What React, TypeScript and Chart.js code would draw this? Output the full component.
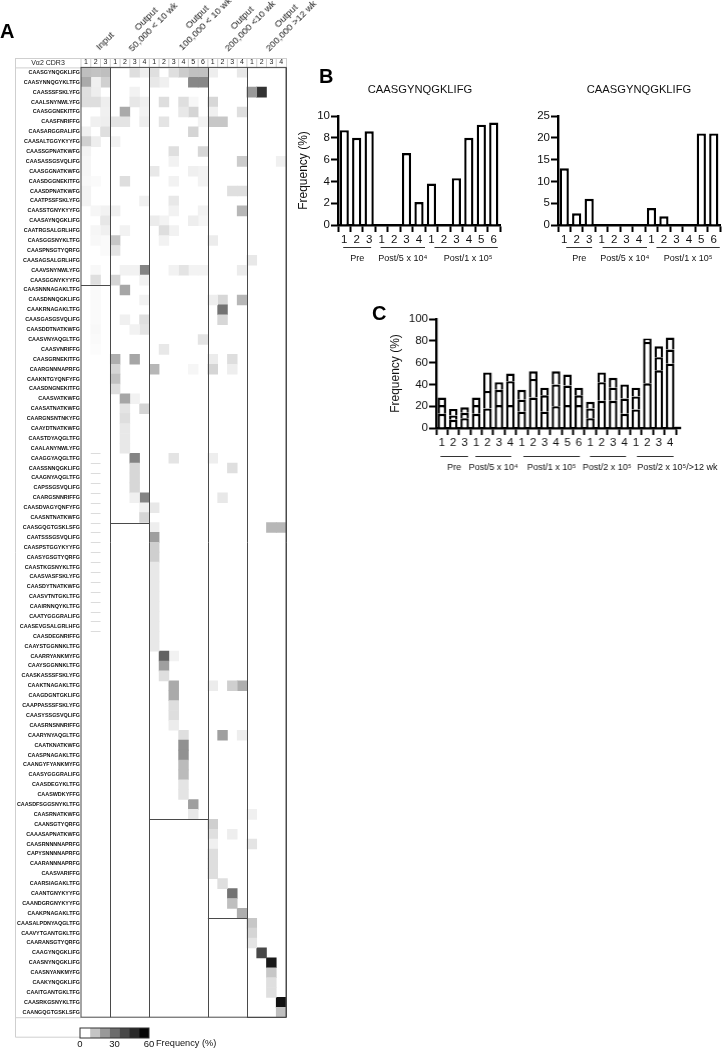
import React, { useEffect, useRef } from "react";
import { Chart, registerables } from "chart.js";

Chart.register(...registerables);
const FONT = "'Liberation Sans', Arial, sans-serif";
Chart.defaults.font.family = FONT;
Chart.defaults.color = "#000";

/* ---------- Panel A data ---------- */
const cdr3Labels = [
  "CAASGYNQGKLIFG", "CAASYNNQGYKLTFG", "CAASSSFSKLYFG", "CAALSNYNWLYFG", "CAASGGNEKITFG", "CAASFNRIFFG",
  "CAASARGGRALIFG", "CAASALTGGYKYYFG", "CAASSGPNATKWFG", "CAASASSGSVQLIFG", "CAASGGNATKWFG", "CAASDGGNEKITFG",
  "CAASDPNATKWFG", "CAATPSSFSKLYFG", "CAASSTGNYKYYFG", "CAASAYNQGKLIFG", "CAATRGSALGRLHFG", "CAASGGSNYKLTFG",
  "CAASPNSGTYQRFG", "CAASAGSALGRLHFG", "CAAVSNYNWLYFG", "CAASGGNYKYYFG", "CAASNNNAGAKLTFG", "CAASDNNQGKLIFG",
  "CAAKRNAGAKLTFG", "CAASGASGSVQLIFG", "CAASDDTNATKWFG", "CAASVNYAQGLTFG", "CAASVNRIFFG", "CAASGRNEKITFG",
  "CAARGNNNAPRFG", "CAAKNTGYQNFYFG", "CAASDNGNEKITFG", "CAASVATKWFG", "CAASATNATKWFG", "CAARGNSNTNKYFG",
  "CAAYDTNATKWFG", "CAASTDYAQGLTFG", "CAALANYNWLYFG", "CAAGGYAQGLTFG", "CAASSNNQGKLIFG", "CAAGNYAQGLTFG",
  "CAPSSGSVQLIFG", "CAARGSNNRIFFG", "CAASDVAGYQNFYFG", "CAASNTNATKWFG", "CAASGQGTGSKLSFG", "CAATSSSGSVQLIFG",
  "CAASPSTGGYKYYFG", "CAASYGSGTYQRFG", "CAASTKGSNYKLTFG", "CAASVASFSKLYFG", "CAASDYTNATKWFG", "CAASVTNTGKLTFG",
  "CAAIRNNQYKLTFG", "CAATYGGGRALIFG", "CAASEVGSALGRLHFG", "CAASDEGNRIFFG", "CAAYSTGGNNKLTFG", "CAARRYANKMYFG",
  "CAAYSGGNNKLTFG", "CAASKASSSFSKLYFG", "CAAKTNAGAKLTFG", "CAAGDGNTGKLIFG", "CAAPPASSSFSKLYFG", "CAASYSSGSVQLIFG",
  "CAASRNSNNRIFFG", "CAARYNYAQGLTFG", "CAATKNATKWFG", "CAASPNAGAKLTFG", "CAANGYFYANKMYFG", "CAASYGGGRALIFG",
  "CAASDEGYKLTFG", "CAASWDKYFFG", "CAASDFSGGSNYKLTFG", "CAASRNATKWFG", "CAANSGTYQRFG", "CAAASAPNATKWFG",
  "CAASRNNNNAPRFG", "CAPYSNNNNAPRFG", "CAARANNNAPRFG", "CAASVARIFFG", "CAARSIAGAKLTFG", "CAANTGNYKYYFG",
  "CAANDGRGNYKYYFG", "CAAKPNAGAKLTFG", "CAASALPDNYAQGLTFG", "CAAVYTGANTGKLTFG", "CAARANSGTYQRFG", "CAAGYNQGKLIFG",
  "CAASNYNQGKLIFG", "CAASNYANKMYFG", "CAAKYNQGKLIFG", "CAAITGANTGKLTFG", "CAASRKGSNYKLTFG", "CAANGQGTGSKLSFG",
];
const columnNumbers = ["1","2","3","1","2","3","4","1","2","3","4","5","6","1","2","3","4","1","2","3","4"];
// Index (0-based) of the last row that belongs to each sample group, and the columns the group ends at.
const groupColumnEnds = [3, 7, 13, 17, 21];
const groupRowEnds = [22, 46, 76, 86, 96];
// One entry per row: [column, frequency %] pairs for the non-empty cells.
const rowCells: number[][][] = [
  [[0,15],[1,14],[2,15],[5,7.8],[6,4],[7,7.5],[9,7.5],[10,12],[11,14.5],[12,14.5],[13,4],[16,5.5]],
  [[0,20],[1,3.5],[2,11],[7,5.5],[8,3.5],[11,28],[12,28]],
  [[0,7.5],[1,4],[5,3],[17,24],[18,48]],
  [[0,7.8],[1,7.8],[2,4],[5,5.6],[6,3.5],[8,7.8],[10,7.5],[11,2],[13,9.4]],
  [[2,3.5],[4,20],[6,2.8],[10,5.5],[11,10],[13,3.5],[16,7.5]],
  [[1,3.5],[2,4],[3,6.4],[4,6.4],[6,4],[8,6.4],[12,2.8],[13,13.2],[14,13.2]],
  [[0,3.5],[2,7.5],[11,10]],
  [[0,11],[1,4],[3,3]],
  [[0,2.8],[9,7.5],[12,9.4]],
  [[0,2.1],[9,3],[16,12],[20,3.5]],
  [[0,2.1],[7,5.5],[11,3.5],[12,2.8]],
  [[0,1.7],[1,1.2],[4,7.8],[9,3],[12,2.8]],
  [[0,2.8],[15,7.5],[16,7.5]],
  [[0,2.8],[6,3.5],[9,5.5]],
  [[1,2.1],[2,3],[3,3.5],[9,3],[12,3],[16,17]],
  [[2,5.6],[7,4.4],[8,2.8],[11,4],[12,2.1]],
  [[1,2.1],[2,3.5],[4,3],[8,7.8],[9,3]],
  [[1,1.7],[2,1.2],[3,13.2],[8,3],[13,4.4]],
  [[2,1.2],[3,6.4]],
  [[17,5.5]],
  [[1,1.7],[4,3],[5,3],[6,29],[9,3],[10,6.4],[11,2.8],[12,2.8],[16,4.4]],
  [[1,7.5],[3,10],[6,3]],
  [[1,1.2],[4,21]],
  [[1,1.2],[6,3],[13,4],[14,9.4],[16,17]],
  [[1,1.2],[14,33]],
  [[1,1.2],[4,3.5],[6,7.5],[14,9.4]],
  [[1,1.7],[5,3],[6,6.4]],
  [[1,1.2],[12,6.4]],
  [[1,0.7],[8,5.5]],
  [[3,19],[5,21],[13,4.4],[15,7.8]],
  [[3,10],[7,17],[11,2.1],[13,10],[15,4]],
  [[3,14.5]],
  [[3,7.8]],
  [[4,21],[5,3]],
  [[4,6.4],[6,10]],
  [[4,7.8]],
  [[4,5.5]],
  [[4,5.5]],
  [[4,5.5]],
  [[5,29],[9,6.4],[13,4]],
  [[5,9.4],[15,7.5]],
  [[5,9.4]],
  [[5,9.4]],
  [[5,3.5],[6,29],[14,5.5]],
  [[6,3.5],[7,5.5]],
  [[6,10]],
  [[7,4],[19,17],[20,17]],
  [[7,22.6]],
  [[7,11.2]],
  [[7,11.2]],
  [[7,5.5]],
  [[7,5.5]],
  [[7,5.5]],
  [[7,5.5]],
  [[7,5.5]],
  [[7,5.5]],
  [[7,5.5]],
  [[7,5.5]],
  [[7,5.5]],
  [[8,37],[9,3]],
  [[8,22.6]],
  [[8,7.5]],
  [[9,20],[13,4.4],[15,11.2],[16,19]],
  [[9,20]],
  [[9,7.8]],
  [[9,7.8]],
  [[9,4.4]],
  [[10,7.5],[14,22.6],[16,4]],
  [[10,26]],
  [[10,26]],
  [[10,16]],
  [[10,16]],
  [[10,6.4]],
  [[10,6.4]],
  [[11,22.6]],
  [[11,5.5],[17,3.5]],
  [[13,11.2]],
  [[13,7.5],[15,4]],
  [[13,3.5],[17,6.4]],
  [[13,7.8]],
  [[13,7.8]],
  [[13,7.8]],
  [[14,7.5]],
  [[15,33]],
  [[15,15]],
  [[16,19]],
  [[17,13.2]],
  [[17,10]],
  [[17,6.4]],
  [[18,43]],
  [[19,54]],
  [[19,13.2]],
  [[19,7.5]],
  [[19,7.5]],
  [[20,56]],
  [[20,15]],
];
// Rows of the input column whose lower edge carries a faint dash.
const faintDashRows = [38,39,40,41,42,43,44,45,46,47,48,49,50,51,52,53,54,55,56];
const legendBlocks = [8.57, 8.57, 8.57, 8.57, 8.57, 8.58, 8.57];
const legendGrays = ["#ffffff", "#c4c4c4", "#999999", "#6c6c6c", "#484848", "#282828", "#050505"];
const legendTicks = [0, 30, 60];

/* ---------- Panel B data ---------- */
const panelBTitle = "CAASGYNQGKLIFG";
const panelBLabels = ["1","2","3","1","2","3","4","1","2","3","4","5","6"];
const panelB1Values = [8.7, 8, 8.6, 0, 0, 6.6, 2.1, 3.8, 0, 4.3, 8, 9.2, 9.4];
const panelB2Values = [13, 2.7, 6, 0, 0, 0, 0, 3.9, 2, 0, 0, 21, 21];
const panelBGroups = ["Pre", "Post/5 x 10\u2074", "Post/1 x 10\u2075"];
const panelBGroupFirst = [0, 3, 7];
const panelBGroupLast = [2, 6, 12];

/* ---------- Panel C data ---------- */
const panelCLabels = ["1","2","3","1","2","3","4","1","2","3","4","5","6","1","2","3","4","1","2","3","4"];
const panelCLower = [13, 7.5, 9, 13, 18, 21, 21, 15, 28, 15, 20, 21, 21, 9, 25, 25, 13, 17, 41, 53, 59];
const panelCMiddle = [8, 4, 5, 8, 16, 14, 22, 11, 17, 15, 20, 18, 9, 9, 17, 12, 14, 12, 38, 12, 13];
const panelCUpper = [7, 6, 5, 7, 17, 7, 7, 9, 7, 7, 12, 10, 7, 6, 9, 9, 13, 8, 3, 10, 11];
const panelCGroups = ["Pre", "Post/5 x 10\u2074", "Post/1 x 10\u2075", "Post/2 x 10\u2075", "Post/2 x 10\u2075/>12 wk"];
const panelCGroupFirst = [0, 3, 7, 13, 17];
const panelCGroupLast = [2, 6, 12, 16, 20];

const headerLines = [["Input"], ["Output", "50,000 < 10 wk"], ["Output", "100,000 < 10 wk"], ["Output", "200,000 <10 wk"], ["Output", "200,000 >12 wk"]];

/* ---------- helpers ---------- */
const freqColor = (v: number) => {
  const g = Math.round(255 * (1 - v / 60));
  return `rgb(${g},${g},${g})`;
};

type Frame = { left: number; top: number; right: number; bottom: number; ml: number; mt: number; mr: number; mb: number };
const frameStyle = (f: Frame): React.CSSProperties => ({
  position: "absolute",
  left: f.left - f.ml,
  top: f.top - f.mt,
  width: f.right - f.left + f.ml + f.mr,
  height: f.bottom - f.top + f.mt + f.mb,
  display: "block",
});

function ChartCanvas({ frame, build }: { frame: Frame; build: () => any }) {
  const ref = useRef<HTMLCanvasElement>(null);
  useEffect(() => {
    const chart = new Chart(ref.current as HTMLCanvasElement, build());
    return () => chart.destroy();
  }, []);
  const s = frameStyle(frame);
  return <canvas ref={ref} width={s.width as number} height={s.height as number} style={s} />;
}

/* ---------- Panel A ---------- */
const frameA: Frame = { left: 81, top: 67.4, right: 286, bottom: 1017.2, ml: 67, mt: 9.4, mr: 2, mb: 22.8 };

const heatmapFrame = {
  id: "heatmapFrame",
  beforeDraw(chart: any) {
    const { ctx, chartArea: a, scales } = chart;
    const x = scales.x;
    ctx.save();
    ctx.strokeStyle = "#cfcfcf";
    ctx.lineWidth = 1;
    const l = a.left - 66;
    ctx.strokeRect(l + 0.5, 0.5, a.right - l, a.top);
    ctx.beginPath();
    ctx.moveTo(l + 0.5, a.top);
    ctx.lineTo(l + 0.5, a.bottom + 20);
    ctx.lineTo(a.left - 1, a.bottom + 20);
    ctx.moveTo(l + 0.5, a.bottom + 0.5);
    ctx.lineTo(a.left, a.bottom + 0.5);
    columnNumbers.forEach((_, i) => {
      const px = x.getPixelForValue(i);
      ctx.moveTo(px, 0);
      ctx.lineTo(px, a.top);
    });
    ctx.stroke();
    ctx.fillStyle = "#222";
    ctx.font = `7px ${FONT}`;
    ctx.textAlign = "center";
    ctx.textBaseline = "middle";
    ctx.fillText("V\u03b12 CDR3", l + 33, a.top / 2 + 0.5);
    ctx.restore();
  },
  afterDatasetsDraw(chart: any) {
    const { ctx, chartArea: a, scales } = chart;
    const x = scales.x;
    const y = scales.y;
    const rowH = (a.bottom - a.top) / cdr3Labels.length;
    ctx.save();
    ctx.strokeStyle = "#dcdcdc";
    ctx.lineWidth = 1;
    ctx.beginPath();
    faintDashRows.forEach((r) => {
      const py = Math.round(y.getPixelForValue(r) + rowH / 2) + 0.5;
      ctx.moveTo(x.getPixelForValue(1) , py);
      ctx.lineTo(x.getPixelForValue(2) , py);
    });
    ctx.stroke();
    ctx.strokeStyle = "#4a4a4a";
    ctx.lineWidth = 1;
    ctx.strokeRect(a.left, a.top, a.right - a.left, a.bottom - a.top);
    ctx.beginPath();
    groupColumnEnds.forEach((c, i) => {
      const px = Math.round(x.getPixelForValue(c)) + 0.5;
      const pyEnd = Math.round(y.getPixelForValue(groupRowEnds[i] - 1) + rowH / 2) + 0.5;
      ctx.moveTo(px, a.top);
      ctx.lineTo(px, a.bottom);
      const startC = i === 0 ? 0 : groupColumnEnds[i - 1];
      ctx.moveTo(x.getPixelForValue(startC), pyEnd);
      ctx.lineTo(px, pyEnd);
    });
    ctx.stroke();
    ctx.restore();
  },
};

const buildHeatmap = () => ({
  type: "bar",
  data: {
    labels: cdr3Labels,
    datasets: columnNumbers.map((_, c) => ({
      data: rowCells.map((cells) => (cells.some((p) => p[0] === c) ? [c, c + 1] : null)),
      backgroundColor: rowCells.map((cells) => {
        const hit = cells.find((p) => p[0] === c);
        return hit ? freqColor(hit[1]) : "#fff";
      }),
      borderWidth: 0,
      barPercentage: 1,
      categoryPercentage: 1,
      grouped: false,
    })),
  },
  options: {
    indexAxis: "y",
    responsive: false,
    animation: false,
    layout: { padding: { top: 0, left: 0, right: frameA.mr, bottom: frameA.mb } },
    plugins: { legend: { display: false }, tooltip: { enabled: false } },
    scales: {
      x: {
        type: "linear",
        position: "top",
        min: 0,
        max: 21,
        grid: { display: false, drawTicks: false },
        border: { display: false },
        afterBuildTicks: (s: any) => {
          s.ticks = columnNumbers.map((_, i) => ({ value: i + 0.5 }));
        },
        afterFit: (s: any) => {
          s.height = frameA.mt;
        },
        ticks: {
          autoSkip: false,
          maxRotation: 0,
          padding: 1,
          color: "#222",
          font: { size: 7 },
          callback: (_v: any, i: number) => columnNumbers[i],
        },
      },
      y: {
        type: "category",
        grid: { display: false, drawTicks: false },
        border: { display: false },
        afterFit: (s: any) => {
          s.width = frameA.ml;
        },
        ticks: {
          autoSkip: false,
          padding: 1,
          color: "#111",
          font: { size: 5.4, weight: "bold" },
        },
      },
    },
  },
  plugins: [heatmapFrame],
});

/* ---------- Legend ---------- */
const frameLegend: Frame = { left: 80, top: 1027.5, right: 149, bottom: 1037.5, ml: 10, mt: 2, mr: 10, mb: 12 };
const legendOutline = {
  id: "legendOutline",
  afterDatasetsDraw(chart: any) {
    const { ctx, chartArea: a } = chart;
    ctx.save();
    ctx.strokeStyle = "#333";
    ctx.lineWidth = 1;
    ctx.strokeRect(a.left, a.top, a.right - a.left, a.bottom - a.top);
    ctx.restore();
  },
};
const buildLegend = () => ({
  type: "bar",
  data: {
    labels: [""],
    datasets: legendBlocks.map((v, i) => ({
      data: [v],
      backgroundColor: legendGrays[i],
      borderWidth: 0,
      barPercentage: 1,
      categoryPercentage: 1,
    })),
  },
  options: {
    indexAxis: "y",
    responsive: false,
    animation: false,
    layout: { padding: { top: frameLegend.mt, left: 0, right: frameLegend.mr, bottom: 0 } },
    plugins: { legend: { display: false }, tooltip: { enabled: false } },
    scales: {
      x: {
        stacked: true,
        min: 0,
        max: 60,
        grid: { display: false, drawTicks: false },
        border: { display: false },
        afterBuildTicks: (s: any) => {
          s.ticks = legendTicks.map((value) => ({ value }));
        },
        afterFit: (s: any) => {
          s.height = frameLegend.mb;
        },
        ticks: { padding: 1, font: { size: 9.5 }, maxRotation: 0, autoSkip: false, color: "#111" },
      },
      y: {
        stacked: true,
        grid: { display: false, drawTicks: false },
        border: { display: false },
        ticks: { display: false },
        afterFit: (s: any) => {
          s.width = frameLegend.ml;
        },
      },
    },
  },
  plugins: [legendOutline],
});

/* ---------- Bar panels ---------- */
type GroupOpts = {
  names: string[];
  first: number[];
  last: number[];
  startShift: number[];
  endShift: number[];
  labelShift: number[];
  lineDrop: number;
  labelDrop: number;
  title?: string;
  titleY?: number;
  titleShift?: number;
  axisExtend?: number;
};
const groupPlugin = (g: GroupOpts) => ({
  id: "groupAxis",
  afterDraw(chart: any) {
    const { ctx, chartArea: a, scales } = chart;
    const x = scales.x;
    ctx.save();
    ctx.strokeStyle = "#333";
    ctx.fillStyle = "#111";
    ctx.lineWidth = 1;
    ctx.textAlign = "center";
    ctx.textBaseline = "middle";
    ctx.font = `9px ${FONT}`;
    g.names.forEach((name, i) => {
      const x0 = x.getPixelForValue(g.first[i]) + g.startShift[i];
      const x1 = x.getPixelForValue(g.last[i]) + g.endShift[i];
      const ly = Math.round(a.bottom + g.lineDrop) + 0.5;
      ctx.beginPath();
      ctx.moveTo(x0, ly);
      ctx.lineTo(x1, ly);
      ctx.stroke();
      ctx.fillText(name, (x0 + x1) / 2 + g.labelShift[i], a.bottom + g.labelDrop);
    });
    if (g.axisExtend) {
      ctx.strokeStyle = "#000";
      ctx.lineWidth = 2.4;
      ctx.beginPath();
      const py = Math.round(a.bottom);
      ctx.moveTo(a.right - 1, py);
      ctx.lineTo(a.right + g.axisExtend, py);
      ctx.stroke();
    }
    if (g.title) {
      ctx.fillStyle = "#111";
      ctx.font = `11.2px ${FONT}`;
      ctx.fillText(g.title, (a.left + a.right) / 2 + (g.titleShift || 0), g.titleY as number);
    }
    ctx.restore();
  },
});

const STROKE = 2.4;
const barScales = (frame: Frame, yMax: number, step: number, showTitle: boolean) => ({
  x: {
    stacked: true,
    grid: { display: true, drawOnChartArea: false, tickLength: 7, tickWidth: 2, tickColor: "#000" },
    border: { display: true, width: STROKE, color: "#000" },
    afterFit: (s: any) => {
      s.height = frame.mb;
    },
    ticks: { autoSkip: false, maxRotation: 0, padding: 1, color: "#111", font: { size: 11.5 } },
  },
  y: {
    stacked: true,
    min: 0,
    max: yMax,
    title: { display: showTitle, text: "Frequency (%)", color: "#111", font: { size: 12 }, padding: { top: 0, bottom: 0 } },
    grid: { display: true, drawOnChartArea: false, tickLength: 7, tickWidth: 2, tickColor: "#000" },
    border: { display: true, width: STROKE, color: "#000" },
    afterFit: (s: any) => {
      s.width = frame.ml;
    },
    ticks: { stepSize: step, padding: 1, color: "#111", font: { size: 11.5 } },
  },
});

const barDataset = (data: number[], pct: number) => ({
  data,
  backgroundColor: "#fff",
  borderColor: "#000",
  borderWidth: STROKE,
  barPercentage: pct,
  categoryPercentage: 1,
});

const barOptions = (frame: Frame, yMax: number, step: number, showTitle: boolean) => ({
  responsive: false,
  animation: false,
  layout: { padding: { top: frame.mt, left: 0, right: frame.mr, bottom: 0 } },
  plugins: { legend: { display: false }, tooltip: { enabled: false } },
  scales: barScales(frame, yMax, step, showTitle),
});

const frameB1: Frame = { left: 337.7, top: 116, right: 500.3, bottom: 225.3, ml: 42, mt: 34, mr: 6, mb: 42 };
const frameB2: Frame = { left: 557.7, top: 116, right: 720.2, bottom: 225.3, ml: 42, mt: 34, mr: 6, mb: 42 };
const frameC: Frame = { left: 436, top: 319.3, right: 675.8, bottom: 428.3, ml: 48, mt: 10, mr: 46, mb: 48 };

const buildB1 = () => ({
  type: "bar",
  data: { labels: panelBLabels, datasets: [barDataset(panelB1Values, 0.74)] },
  options: barOptions(frameB1, 10, 2, true),
  plugins: [
    groupPlugin({
      names: panelBGroups,
      first: panelBGroupFirst,
      last: panelBGroupLast,
      startShift: [-1, -1, 3],
      endShift: [2, 6, 4],
      labelShift: [0, 0, 2],
      lineDrop: 22.4,
      labelDrop: 34,
      title: panelBTitle,
      titleY: 8,
      titleShift: 1,
    }),
  ],
});
const buildB2 = () => ({
  type: "bar",
  data: { labels: panelBLabels, datasets: [barDataset(panelB2Values, 0.74)] },
  options: barOptions(frameB2, 25, 5, false),
  plugins: [
    groupPlugin({
      names: panelBGroups,
      first: panelBGroupFirst,
      last: panelBGroupLast,
      startShift: [2, 1, 5],
      endShift: [3, 8, 6],
      labelShift: [0, 0, 0],
      lineDrop: 22.4,
      labelDrop: 34,
      title: panelBTitle,
      titleY: 8,
      titleShift: 0,
    }),
  ],
});
const buildC = () => ({
  type: "bar",
  data: {
    labels: panelCLabels,
    datasets: [barDataset(panelCLower, 0.75), barDataset(panelCMiddle, 0.75), barDataset(panelCUpper, 0.75)],
  },
  options: barOptions(frameC, 100, 20, true),
  plugins: [
    groupPlugin({
      names: panelCGroups,
      first: panelCGroupFirst,
      last: panelCGroupLast,
      startShift: [-1.4, -0.7, 1.6, -0.3, 1],
      endShift: [3.4, 1, 1, 1.5, 3.4],
      labelShift: [0, 0, 0, -1, 22],
      lineDrop: 28,
      labelDrop: 40,
      axisExtend: 5.2,
    }),
  ],
});

/* ---------- Static text ---------- */
const textBase: React.CSSProperties = { position: "absolute", fontFamily: FONT, color: "#111", whiteSpace: "nowrap", willChange: "transform" };
const headerPos = [
  [[105, 41]],
  [[145.5, 18.7], [153.3, 26.7]],
  [[196.7, 16.7], [204.7, 24]],
  [[242, 17.7], [250, 25.5]],
  [[285.7, 16.3], [291, 25.5]],
];

export default function App() {
  return (
    <div style={{ position: "absolute", left: 0, top: 0, width: 722, height: 1048, overflow: "hidden", background: "#fff" }}>
      <ChartCanvas frame={frameA} build={buildHeatmap} />
      <ChartCanvas frame={frameLegend} build={buildLegend} />
      <ChartCanvas frame={frameB1} build={buildB1} />
      <ChartCanvas frame={frameB2} build={buildB2} />
      <ChartCanvas frame={frameC} build={buildC} />
      {headerLines.map((lines, i) =>
        lines.map((t, j) => (
          <span
            key={`${i}-${j}`}
            style={{
              ...textBase,
              left: headerPos[i][j][0],
              top: headerPos[i][j][1],
              fontSize: 9.5,
              lineHeight: "10px",
              color: "#222",
              transform: "translate(-50%,-50%) rotate(-45deg)",
            }}
          >
            {t}
          </span>
        ))
      )}
      <span style={{ ...textBase, left: 156, top: 1037.5, fontSize: 9.2, lineHeight: "11px" }}>Frequency (%)</span>
      <span style={{ ...textBase, left: 0, top: 20, fontSize: 20, fontWeight: "bold", lineHeight: "22px", color: "#000" }}>A</span>
      <span style={{ ...textBase, left: 319, top: 65, fontSize: 20, fontWeight: "bold", lineHeight: "22px", color: "#000" }}>B</span>
      <span style={{ ...textBase, left: 372, top: 302, fontSize: 20, fontWeight: "bold", lineHeight: "22px", color: "#000" }}>C</span>
    </div>
  );
}
